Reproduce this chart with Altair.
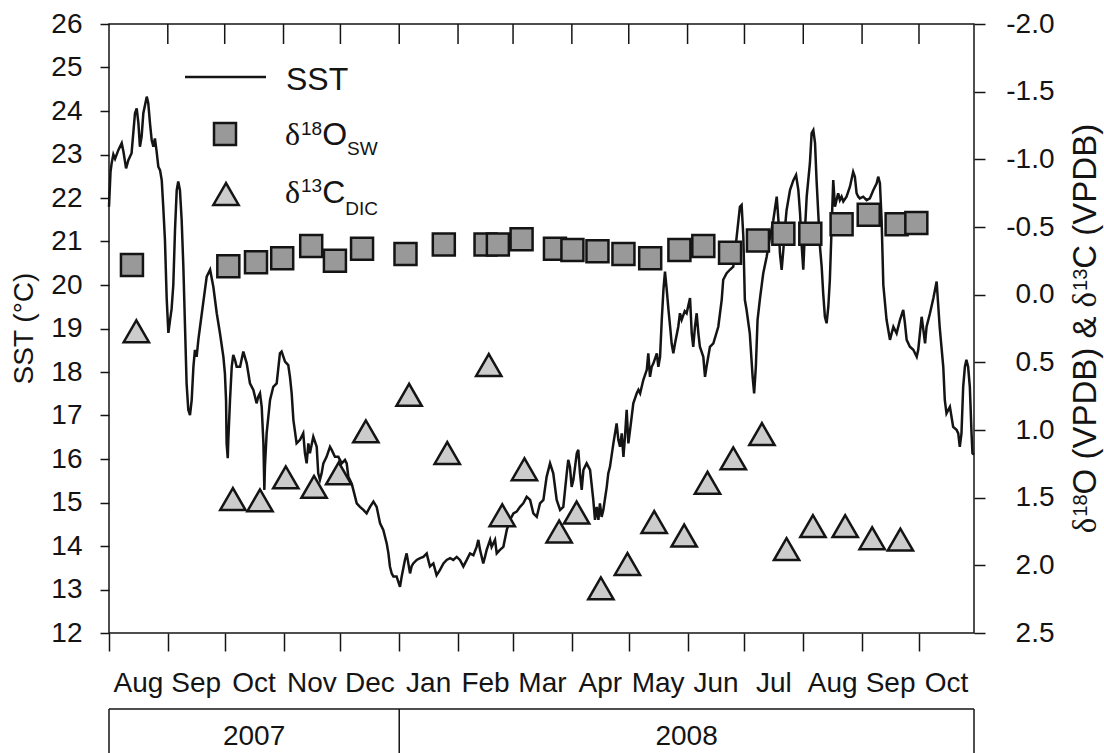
import altair as alt
import pandas as pd

# ---------------------------------------------------------------- data
T0 = pd.Timestamp("2007-08-01")          # day 0 of the record
RECORD_END = "2008-10-30"

month_starts = ["2007-08-01", "2007-09-01", "2007-10-01", "2007-11-01", "2007-12-01",
                "2008-01-01", "2008-02-01", "2008-03-01", "2008-04-01", "2008-05-01",
                "2008-06-01", "2008-07-01", "2008-08-01", "2008-09-01", "2008-10-01"]
month_names = ["Aug", "Sep", "Oct", "Nov", "Dec", "Jan", "Feb", "Mar", "Apr", "May",
               "Jun", "Jul", "Aug", "Sep", "Oct"]
year_names = ["2007", "2008"]
year_bounds = ["2007-08-01", "2008-01-01", RECORD_END]

# sea surface temperature, (days since 1 Aug 2007, degC)
sst_record = [
    (0.0, 21.8), (0.8, 22.6), (1.4, 22.8), (2.3, 23.0), (3.2, 22.9), (4.9, 23.1), (6.7, 23.26),
    (7.6, 23.07), (9.0, 22.68), (10.2, 22.87), (11.9, 23.03), (13.7, 23.95), (14.6, 24.06),
    (15.5, 23.72), (16.3, 23.18), (17.2, 23.41), (18.1, 23.95), (19.9, 24.33), (20.7, 24.18),
    (21.6, 23.72), (22.5, 23.33), (23.4, 23.18), (24.2, 23.37), (25.1, 23.07), (26.0, 22.72),
    (26.9, 22.64), (27.8, 22.41), (28.6, 21.80), (29.5, 21.03), (30.4, 19.7), (31.3, 18.9),
    (32.2, 19.2), (33.0, 19.45), (33.9, 20.0), (34.8, 21.27), (35.7, 22.18), (36.5, 22.38),
    (37.4, 22.18), (38.3, 21.50), (39.2, 20.42), (40.1, 19.0), (40.9, 17.74), (41.8, 17.13),
    (42.7, 17.01), (43.6, 17.36), (44.5, 18.12), (45.3, 18.51), (46.2, 18.35), (47.1, 18.74),
    (48.0, 19.04), (49.7, 19.6), (51.5, 20.19), (53.3, 20.35), (55.0, 19.96), (56.8, 19.35),
    (58.5, 18.89), (60.3, 18.35), (61.1, 17.97), (61.7, 17.36), (62.0, 16.36), (62.6, 16.02),
    (62.9, 16.44), (63.8, 17.36), (64.7, 18.12), (65.5, 18.39), (66.4, 18.28), (67.3, 18.12),
    (69.1, 18.12), (70.8, 18.47), (72.6, 18.20), (74.3, 17.74), (76.1, 17.59), (77.8, 17.28),
    (78.7, 17.43), (79.6, 17.51), (80.5, 17.20), (81.4, 16.36), (81.9, 15.29), (82.2, 15.82),
    (83.1, 16.59), (84.9, 17.36), (86.6, 17.66), (88.4, 17.74), (90.1, 18.43), (91.0, 18.47),
    (92.8, 18.24), (94.5, 18.16), (95.4, 17.89), (96.3, 17.51), (97.2, 16.9), (98.9, 16.36),
    (100.7, 16.44), (102.4, 16.59), (103.3, 16.13), (104.2, 15.9), (105.1, 16.36), (105.9, 16.13),
    (107.7, 16.51), (109.5, 16.28), (110.3, 15.67), (111.2, 15.52), (112.1, 15.67), (113.0, 15.9),
    (114.7, 16.05), (116.5, 16.28), (117.4, 16.21), (119.1, 16.05), (120.9, 16.05), (122.7, 15.9),
    (124.4, 15.98), (125.3, 15.9), (126.2, 15.59), (127.9, 15.44), (128.8, 15.29), (130.6, 14.98),
    (132.3, 14.9), (134.1, 14.83), (135.8, 14.75), (137.6, 14.9), (139.4, 15.02), (141.1, 14.9),
    (142.9, 14.52), (144.6, 14.37), (146.4, 14.06), (147.3, 13.83), (148.1, 13.53), (149.0, 13.37),
    (149.9, 13.3), (151.6, 13.3), (153.4, 13.06), (154.3, 13.3), (156.0, 13.68), (156.9, 13.83),
    (158.7, 13.37), (159.5, 13.53), (160.4, 13.6), (162.2, 13.68), (164.0, 13.72), (165.7, 13.75),
    (167.5, 13.83), (168.3, 13.68), (169.2, 13.53), (171.0, 13.6), (172.7, 13.33), (174.5, 13.45),
    (176.3, 13.6), (178.0, 13.68), (179.8, 13.72), (181.5, 13.68), (183.3, 13.75), (185.0, 13.68),
    (186.8, 13.53), (188.6, 13.68), (190.3, 13.83), (192.1, 13.79), (193.8, 13.98), (194.7, 14.14),
    (195.6, 13.91), (197.3, 13.6), (198.2, 13.75), (199.1, 13.91), (200.9, 14.14), (201.7, 13.98),
    (202.6, 14.06), (203.5, 14.14), (204.4, 13.83), (206.1, 13.91), (207.9, 13.98), (209.7, 14.37),
    (211.4, 14.6), (213.2, 14.75), (214.9, 14.79), (216.7, 14.9), (218.4, 14.98), (220.2, 15.13),
    (222.0, 15.06), (223.7, 14.75), (225.5, 14.67), (227.2, 14.98), (229.0, 15.06), (230.7, 15.59),
    (232.5, 15.9), (234.2, 15.67), (236.0, 15.06), (237.8, 14.83), (239.5, 14.9), (241.3, 15.67),
    (242.1, 15.98), (243.0, 15.82), (243.9, 15.36), (244.8, 15.52), (246.6, 16.13), (247.4, 16.21),
    (248.3, 15.67), (249.2, 15.29), (250.1, 15.75), (251.8, 15.9), (253.6, 15.75), (255.3, 15.06),
    (256.2, 14.6), (257.1, 14.9), (258.0, 14.6), (258.8, 14.98), (259.7, 14.67), (260.6, 14.83),
    (262.4, 15.36), (263.2, 15.67), (264.1, 15.82), (265.9, 16.36), (267.6, 16.82), (268.5, 16.44),
    (269.4, 16.28), (270.3, 16.59), (271.2, 16.05), (272.0, 16.51), (272.9, 17.13), (273.8, 16.36),
    (274.7, 16.67), (276.4, 17.28), (278.2, 17.51), (279.1, 17.59), (280.0, 17.51), (281.7, 17.82),
    (283.5, 18.05), (284.3, 18.43), (285.2, 17.89), (286.1, 18.12), (287.0, 18.2), (288.8, 18.43),
    (289.6, 18.12), (290.5, 18.35), (291.4, 19.2), (292.3, 19.9), (293.1, 20.31), (294.0, 19.9),
    (295.0, 19.4), (295.9, 19.0), (296.6, 18.66), (297.5, 18.43), (298.4, 18.66), (300.1, 19.04),
    (301.0, 19.35), (301.9, 19.2), (303.5, 19.4), (304.5, 19.35), (306.3, 19.7), (307.2, 18.89),
    (308.0, 18.58), (308.9, 19.04), (309.8, 19.35), (310.7, 18.89), (311.5, 18.58), (313.3, 18.35),
    (314.2, 17.89), (315.0, 18.12), (316.8, 18.58), (318.6, 18.66), (321.2, 19.04), (322.1, 19.35),
    (323.0, 19.66), (323.8, 20.12), (325.6, 20.27), (327.3, 20.35), (329.1, 20.42), (330.9, 21.11),
    (332.6, 21.8), (333.5, 21.84), (334.4, 21.11), (335.2, 19.66), (336.1, 19.43), (337.8, 18.89),
    (339.3, 17.89), (340.1, 17.51), (341.0, 18.12), (341.9, 19.2), (343.2, 19.7), (344.9, 20.27),
    (346.7, 20.65), (348.5, 21.11), (350.2, 21.49), (352.0, 22.03), (352.9, 21.49), (353.7, 20.73),
    (354.6, 20.35), (355.5, 20.81), (356.4, 21.34), (357.2, 21.72), (359.0, 22.18), (360.8, 22.41),
    (362.2, 22.53), (363.4, 22.18), (364.3, 21.65), (365.2, 20.88), (366.0, 20.35), (366.9, 21.27),
    (367.8, 22.03), (369.5, 22.8), (370.4, 23.49), (371.3, 23.56), (372.2, 23.26), (373.0, 22.41),
    (373.9, 21.65), (374.8, 20.88), (375.7, 20.42), (376.5, 19.81), (377.4, 19.27), (378.3, 19.12),
    (379.2, 19.5), (380.0, 20.11), (380.9, 21.27), (381.8, 22.41), (382.7, 21.8), (383.5, 21.95),
    (384.4, 22.11), (385.3, 21.95), (386.2, 22.03), (387.1, 21.92), (388.8, 22.03), (390.6, 22.26),
    (392.3, 22.6), (393.2, 22.49), (394.1, 22.11), (395.0, 22.03), (395.8, 21.99), (397.6, 22.03),
    (399.4, 21.95), (401.1, 21.99), (402.9, 22.18), (404.7, 22.34), (405.5, 22.49), (406.4, 22.34),
    (407.3, 21.49), (408.2, 20.0), (409.9, 19.2), (411.7, 18.74), (413.5, 19.04), (415.2, 18.89),
    (417.0, 19.2), (418.7, 19.43), (419.6, 19.12), (420.5, 18.74), (422.2, 18.58), (424.0, 18.51),
    (425.8, 18.35), (426.6, 18.51), (427.5, 18.89), (428.4, 19.27), (429.3, 18.97), (430.2, 18.66),
    (431.0, 19.04), (432.8, 19.35), (434.6, 19.7), (436.3, 20.08), (437.9, 19.04), (439.8, 18.12),
    (440.6, 17.36), (441.5, 17.05), (443.3, 17.2), (445.0, 16.74), (446.8, 16.67), (447.7, 16.59),
    (448.5, 16.28), (449.4, 16.59), (450.3, 17.66), (451.2, 18.12), (452.0, 18.28), (452.9, 18.12),
    (453.8, 17.66), (454.7, 16.59), (455.2, 16.13), (456.0, 16.1),
]

# d18O of seawater (permil VPDB), sampling day
o18_day = [12.1, 62.9, 77.5, 91.3, 106.6, 119.1, 133.4, 156.3, 176.5, 198.5, 205.0, 217.5,
           235.1, 244.3, 257.5, 271.2, 285.3, 300.7, 313.3, 327.4, 342.1, 355.5, 369.7, 386.2,
           400.5, 415.2, 425.6]
o18_val = [-0.22, -0.21, -0.24, -0.27, -0.36, -0.25, -0.34, -0.30, -0.37, -0.37, -0.37, -0.41,
           -0.34, -0.33, -0.32, -0.30, -0.27, -0.33, -0.36, -0.31, -0.40, -0.45, -0.45, -0.52,
           -0.59, -0.52, -0.53]

# d13C of dissolved inorganic carbon (permil VPDB), sampling day
c13_day = [14.4, 65.3, 79.6, 93.2, 108.1, 121.1, 135.4, 158.2, 178.3, 200.2, 207.3, 219.0,
           237.3, 246.5, 259.3, 273.3, 287.4, 303.2, 315.5, 329.1, 344.2, 357.2, 371.1, 388.1,
           402.3, 417.2]
c13_val = [0.27, 1.51, 1.52, 1.35, 1.42, 1.32, 1.01, 0.74, 1.17, 0.52, 1.63, 1.29,
           1.75, 1.61, 2.17, 1.99, 1.68, 1.78, 1.39, 1.21, 1.03, 1.88, 1.71, 1.71,
           1.80, 1.81]

# ---------------------------------------------------------------- frames
def day_of(dates):
    return [float((pd.Timestamp(d) - T0).days) for d in dates]

end_day = day_of([RECORD_END])[0]
start_days = day_of(month_starts)
month_df = pd.DataFrame({
    "day": [(a + b) / 2 for a, b in zip(start_days, start_days[1:] + [end_day])],
    "label": month_names,
})
top_tick_df = pd.DataFrame({"day": start_days[1:]})
yb = day_of(year_bounds)
year_df = pd.DataFrame({"day": [(a + b) / 2 for a, b in zip(yb, yb[1:])], "label": year_names})
year_edge_df = pd.DataFrame({"day": yb})
year_top_df = pd.DataFrame({"day": [yb[0]], "day2": [yb[-1]]})

sst_df = pd.DataFrame(sst_record, columns=["day", "sst"])
o18_df = pd.DataFrame({"day": o18_day, "val": o18_val})
c13_df = pd.DataFrame({"day": c13_day, "val": c13_val})

# ---------------------------------------------------------------- geometry / style
W, H = 865, 609
SANS = "Liberation Sans"
SERIF = "Liberation Serif"
INK = "#141414"
FS = 28

x_enc = alt.X("day:Q",
              scale=alt.Scale(domain=[0, end_day], nice=False, zero=False),
              axis=alt.Axis(values=start_days, labels=False, tickSize=18, tickWidth=1.5,
                            tickColor=INK, domain=False, grid=False, title=None,
                            orient="bottom"))

iso_scale = alt.Scale(domain=[-2.0, 2.5], reverse=True, nice=False, zero=False)

one = pd.DataFrame({"k": [0]})

# advance widths (em) for laying out mixed-size text runs
ADV = {"0": .556, "1": .556, "2": .556, "3": .556, "4": .556, "5": .556, "6": .556,
       "7": .556, "8": .556, "9": .556, " ": .278, "(": .333, ")": .333, "V": .667,
       "P": .667, "D": .722, "B": .667, "O": .778, "C": .722, "&": .667, "S": .667,
       "W": .944, "I": .278, "T": .611, "δ": .50}


def run_width(s, size):
    return sum(ADV.get(ch, .556) for ch in s) * size


def rich_text(runs, x0, y0, vertical=False):
    """runs: (text, size, rise, family); x0/y0 = start point on the baseline."""
    layers, pos = [], 0.0
    for txt, size, rise, fam in runs:
        if vertical:
            x, y, ang = x0 - rise, y0 - pos, 270
        else:
            x, y, ang = x0 + pos, y0 - rise, 0
        layers.append(
            alt.Chart(one).mark_text(text=txt, font=fam, fontSize=size, align="left",
                                     baseline="alphabetic", angle=ang, color=INK)
            .encode(x=alt.value(x), y=alt.value(y)))
        pos += run_width(txt, size)
    return layers


def rich_length(runs):
    return sum(run_width(t, s) for t, s, _, _ in runs)


# ---------------------------------------------------------------- layers
line = alt.Chart(sst_df).mark_line(color=INK, strokeWidth=2.5).encode(
    x=x_enc,
    y=alt.Y("sst:Q", scale=alt.Scale(domain=[12, 26], nice=False, zero=False),
            axis=alt.Axis(orient="left", values=list(range(12, 27)), tickSize=9,
                          tickWidth=1.5, tickColor=INK, labelPadding=18, labelFontSize=FS,
                          labelFont=SANS, labelColor=INK, domain=False, grid=False,
                          title=None)))

squares = alt.Chart(o18_df).mark_point(
    shape="square", filled=True, fill="#999999", stroke=INK, strokeWidth=2.5,
    size=484, opacity=1).encode(
    x=x_enc,
    y=alt.Y("val:Q", scale=iso_scale,
            axis=alt.Axis(orient="right", values=[-2.0, -1.5, -1.0, -0.5, 0.0, 0.5, 1.0,
                                                  1.5, 2.0, 2.5],
                          labelExpr="(datum.value < 0 ? '-' : '') + format(abs(datum.value), '.1f')",
                          tickSize=11, tickWidth=1.5, tickColor=INK, labelAlign="right",
                          labelPadding=69, labelFontSize=FS, labelFont=SANS,
                          labelColor=INK, domain=False, grid=False, title=None)))

triangles = alt.Chart(c13_df).mark_point(
    shape="triangle-up", filled=True, fill="#cccccc", stroke=INK, strokeWidth=2.5,
    size=640, opacity=1).encode(
    x=x_enc, y=alt.Y("val:Q", scale=iso_scale, axis=None))

top_ticks = alt.Chart(top_tick_df).mark_rule(color=INK, strokeWidth=1.5).encode(
    x=x_enc, y=alt.value(0), y2=alt.value(20))

month_labels = alt.Chart(month_df).mark_text(
    font=SANS, fontSize=FS, color=INK, align="center", baseline="middle").encode(
    x=x_enc, y=alt.value(660), text="label:N")

year_top = alt.Chart(year_top_df).mark_rule(color=INK, strokeWidth=1.5).encode(
    x=x_enc, x2="day2:Q", y=alt.value(685))
year_edges = alt.Chart(year_edge_df).mark_rule(color=INK, strokeWidth=1.5).encode(
    x=x_enc, y=alt.value(685), y2=alt.value(760))
year_labels = alt.Chart(year_df).mark_text(
    font=SANS, fontSize=FS, color=INK, align="center", baseline="middle").encode(
    x=x_enc, y=alt.value(713), text="label:N")

# axis titles (both centred on the plot height)
left_title = alt.Chart(one).mark_text(
    text="SST (°C)", font=SANS, fontSize=FS, angle=270, align="center",
    baseline="middle", color=INK).encode(x=alt.value(-84), y=alt.value(H / 2))
TF, SF = 33, 20
title_runs = [("δ", TF, 0, SERIF), ("18", SF, 9, SANS), ("O (VPDB) & ", TF, 0, SANS),
              ("δ", TF, 0, SERIF), ("13", SF, 9, SANS), ("C (VPDB)", TF, 0, SANS)]
right_title = rich_text(title_runs, 987, H / 2 + rich_length(title_runs) / 2, vertical=True)

# legend
leg_line = alt.Chart(one).mark_rule(color=INK, strokeWidth=2.6).encode(
    x=alt.value(76), x2=alt.value(157), y=alt.value(53))
leg_sst = alt.Chart(one).mark_text(text="SST", font=SANS, fontSize=32, align="left",
                                   baseline="alphabetic", color=INK).encode(
    x=alt.value(177), y=alt.value(66))
leg_sq = alt.Chart(one).mark_point(shape="square", filled=True, fill="#999999", stroke=INK,
                                   strokeWidth=2.5, size=484, opacity=1).encode(
    x=alt.value(116), y=alt.value(110))
leg_tri = alt.Chart(one).mark_point(shape="triangle-up", filled=True, fill="#cccccc",
                                    stroke=INK, strokeWidth=2.5, size=640, opacity=1).encode(
    x=alt.value(117), y=alt.value(170))
leg_o18 = rich_text([("δ", 32, 0, SERIF), ("18", 19, 10, SANS), ("O", 32, 0, SANS),
                     ("SW", 19, -10, SANS)], 176, 121)
leg_c13 = rich_text([("δ", 32, 0, SERIF), ("13", 19, 11, SANS), ("C", 32, 0, SANS),
                     ("DIC", 19, -12, SANS)], 176, 179)

chart = alt.layer(
    line, squares, triangles, top_ticks, month_labels, year_top, year_edges, year_labels,
    left_title, *right_title, leg_line, leg_sst, leg_sq, leg_tri, *leg_o18, *leg_c13,
).resolve_scale(y="independent").properties(
    width=W, height=H,
    autosize=alt.AutoSizeParams(type="none"),
    padding={"left": 109, "top": 24, "right": 130, "bottom": 120},
    background="white",
).configure_view(stroke=INK, strokeWidth=1.5)

chart.save("out.html", embed_options={"renderer": "svg", "actions": False})
